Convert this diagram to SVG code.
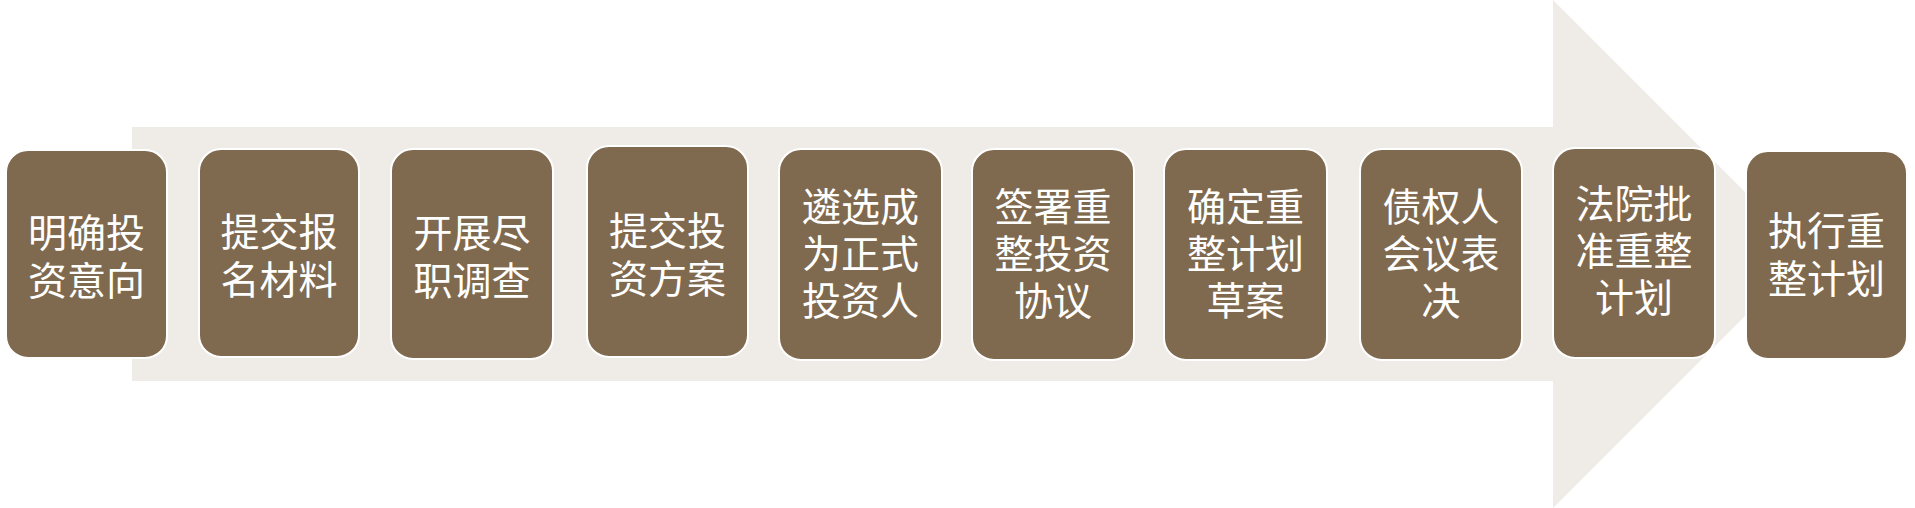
<svg xmlns="http://www.w3.org/2000/svg" width="1915" height="508" viewBox="0 0 1915 508">
<style>
.box{fill:#7F6A4F;stroke:#FFFFFF;stroke-width:2}
.t{font-family:"Noto Sans CJK SC","Noto Sans CJK TC",sans-serif;font-size:39px;fill:#FFFFFF;text-anchor:middle;dominant-baseline:central}
</style>
<rect width="1915" height="508" fill="#FFFFFF"/>
<g id="connectors">
<polygon points="132,127 1553,127 1553,0 1807,254 1553,508 1553,381 132,381" fill="#EFECE7"/>
</g>
<g id="n1"><rect class="box" x="6" y="150" width="161" height="208" rx="22"/><text class="t" x="86.5" y="230">明确投</text><text class="t" x="86.5" y="278">资意向</text></g>
<g id="n2"><rect class="box" x="199" y="149" width="160" height="208" rx="22"/><text class="t" x="279" y="229">提交报</text><text class="t" x="279" y="277">名材料</text></g>
<g id="n3"><rect class="box" x="391" y="149" width="162" height="210" rx="22"/><text class="t" x="472" y="230">开展尽</text><text class="t" x="472" y="278">职调查</text></g>
<g id="n4"><rect class="box" x="587" y="146" width="161" height="211" rx="22"/><text class="t" x="667.5" y="228">提交投</text><text class="t" x="667.5" y="276">资方案</text></g>
<g id="n5"><rect class="box" x="779" y="149" width="163" height="211" rx="22"/><text class="t" x="860.5" y="204">遴选成</text><text class="t" x="860.5" y="251">为正式</text><text class="t" x="860.5" y="298">投资人</text></g>
<g id="n6"><rect class="box" x="972" y="149" width="162" height="211" rx="22"/><text class="t" x="1053" y="204">签署重</text><text class="t" x="1053" y="251">整投资</text><text class="t" x="1053" y="298">协议</text></g>
<g id="n7"><rect class="box" x="1164" y="149" width="163" height="211" rx="22"/><text class="t" x="1245.5" y="204">确定重</text><text class="t" x="1245.5" y="251">整计划</text><text class="t" x="1245.5" y="298">草案</text></g>
<g id="n8"><rect class="box" x="1360" y="149" width="162" height="211" rx="22"/><text class="t" x="1441" y="204">债权人</text><text class="t" x="1441" y="251">会议表</text><text class="t" x="1441" y="298">决</text></g>
<g id="n9"><rect class="box" x="1553" y="148" width="162" height="210" rx="22"/><text class="t" x="1634" y="201">法院批</text><text class="t" x="1634" y="248">准重整</text><text class="t" x="1634" y="295">计划</text></g>
<g id="n10"><rect class="box" x="1746" y="151" width="161" height="208" rx="22"/><text class="t" x="1826.5" y="228">执行重</text><text class="t" x="1826.5" y="276">整计划</text></g>
</svg>
